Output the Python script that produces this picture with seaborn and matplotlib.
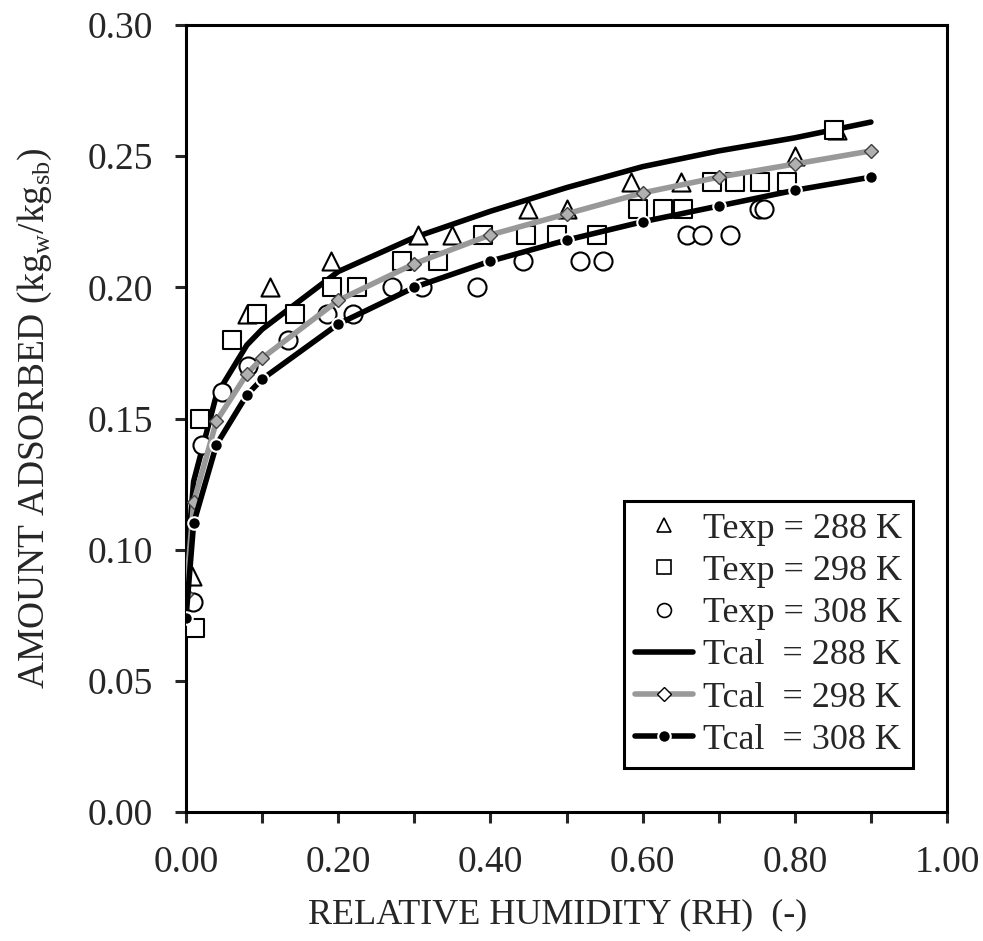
import numpy as np
import pandas as pd
import matplotlib
matplotlib.use("Agg")
import matplotlib.pyplot as plt
import seaborn as sns
from matplotlib.lines import Line2D

rh_exp_288 = [0.008, 0.08, 0.11, 0.19, 0.305, 0.35, 0.45, 0.50, 0.585, 0.65, 0.80, 0.855]
w_exp_288 = [0.09, 0.19, 0.20, 0.21, 0.22, 0.22, 0.23, 0.23, 0.24, 0.24, 0.25, 0.26]

rh_exp_298 = [0.012, 0.018, 0.060, 0.093, 0.143, 0.192, 0.225, 0.284, 0.331, 0.39, 0.447,
              0.488, 0.54, 0.594, 0.627, 0.653, 0.691, 0.721, 0.754, 0.79, 0.852]
w_exp_298 = [0.07, 0.15, 0.18, 0.19, 0.19, 0.20, 0.20, 0.21, 0.21, 0.22, 0.22,
             0.22, 0.22, 0.23, 0.23, 0.23, 0.24, 0.24, 0.24, 0.24, 0.26]

rh_exp_308 = [0.009, 0.021, 0.047, 0.081, 0.134, 0.185, 0.219, 0.271, 0.31, 0.382, 0.443,
              0.518, 0.548, 0.658, 0.678, 0.715, 0.753, 0.76]
w_exp_308 = [0.08, 0.14, 0.16, 0.17, 0.18, 0.19, 0.19, 0.20, 0.20, 0.20, 0.21,
             0.21, 0.21, 0.22, 0.22, 0.22, 0.23, 0.23]

# model curves
rh_cal = [0.0, 0.01, 0.04, 0.08, 0.1, 0.2, 0.3, 0.4, 0.5, 0.6, 0.7, 0.8, 0.9]
w_cal_288 = [0.091, 0.126, 0.159, 0.178, 0.184, 0.206, 0.219, 0.229, 0.238, 0.246, 0.252, 0.257, 0.263]
w_cal_298 = [0.083, 0.118, 0.149, 0.167, 0.173, 0.195, 0.209, 0.220, 0.228, 0.236, 0.242, 0.247, 0.252]
w_cal_308 = [0.074, 0.110, 0.140, 0.159, 0.165, 0.186, 0.200, 0.210, 0.218, 0.225, 0.231, 0.237, 0.242]

x_ticks = [0.0, 0.2, 0.4, 0.6, 0.8, 1.0]
y_ticks = [0.0, 0.05, 0.10, 0.15, 0.20, 0.25, 0.30]

sns.set_style("ticks")
plt.rcParams['font.family'] = ['Liberation Serif', 'DejaVu Serif']
plt.rcParams['mathtext.fontset'] = 'custom'
plt.rcParams['mathtext.rm'] = 'Liberation Serif'

fig = plt.figure(figsize=(9.83, 9.41), dpi=100)
ax = fig.add_axes([186 / 983, 1 - 812 / 941, (947 - 186) / 983, (812 - 25) / 941])

grey = '#999999'

# 288 K model line sits under the points
sns.lineplot(x=rh_cal, y=w_cal_288, ax=ax, color='black', linewidth=4, estimator=None, zorder=2)

for xs, ys, mk in [(rh_exp_288, w_exp_288, '^'), (rh_exp_298, w_exp_298, 's'), (rh_exp_308, w_exp_308, 'o')]:
    sns.scatterplot(x=xs, y=ys, ax=ax, marker=mk, s=13 ** 2, color='white',
                    edgecolor='black', linewidth=1.5, zorder=3)

sns.lineplot(x=rh_cal, y=w_cal_298, ax=ax, color=grey, linewidth=4, estimator=None, zorder=4,
             marker='D', markersize=7, markerfacecolor='#b0b0b0', markeredgecolor='#404040',
             markeredgewidth=1)
sns.lineplot(x=rh_cal, y=w_cal_308, ax=ax, color='black', linewidth=4, estimator=None, zorder=5,
             marker='o', markersize=9, markerfacecolor='black', markeredgecolor='white',
             markeredgewidth=1.5)

ax.set_xlim(0, 1.0)
ax.set_ylim(0, 0.30)
ax.set_xticks(x_ticks)
ax.set_xticklabels([f'{v:.2f}' for v in x_ticks])
ax.set_xticks(np.arange(0.1, 1.0, 0.2), minor=True)
ax.set_yticks(y_ticks)
ax.set_yticklabels([f'{v:.2f}' for v in y_ticks])

ax.tick_params(axis='both', which='both', direction='out', length=8, width=2.2,
               labelsize=27, pad=16, top=False, right=False)

for sp in ax.spines.values():
    sp.set_visible(True)
    sp.set_linewidth(2.2)
    sp.set_color('black')

ax.set_xlabel('RELATIVE HUMIDITY (RH)  (-)', fontsize=26)
ax.xaxis.set_label_coords(0.488, -0.11)
ax.set_ylabel(r'AMOUNT ADSORBED (kg$_\mathregular{w}$/kg$_\mathregular{sb}$)', fontsize=27, labelpad=24)

handles = [
    Line2D([], [], ls='none', marker='^', ms=10, mfc='white', mec='black', mew=1.2),
    Line2D([], [], ls='none', marker='s', ms=10, mfc='white', mec='black', mew=1.2),
    Line2D([], [], ls='none', marker='o', ms=10, mfc='white', mec='black', mew=1.2),
    Line2D([], [], color='black', lw=4),
    Line2D([], [], color=grey, lw=4, marker='D', ms=7, mfc='white', mec='black', mew=1),
    Line2D([], [], color='black', lw=4, marker='o', ms=9, mfc='black', mec='white', mew=1.5),
]
labels = ['Texp = 288 K', 'Texp = 298 K', 'Texp = 308 K',
          'Tcal  = 288 K', 'Tcal  = 298 K', 'Tcal  = 308 K']
leg = ax.legend(handles, labels, loc='lower right', bbox_to_anchor=(0.955, 0.056),
                fontsize=26, frameon=True, fancybox=False, framealpha=1,
                edgecolor='black', handlelength=1.6, handletextpad=0.28,
                labelspacing=0.25, borderpad=0.3, borderaxespad=0)
leg.get_frame().set_linewidth(2.2)

fig.savefig('out.png', dpi=100)
